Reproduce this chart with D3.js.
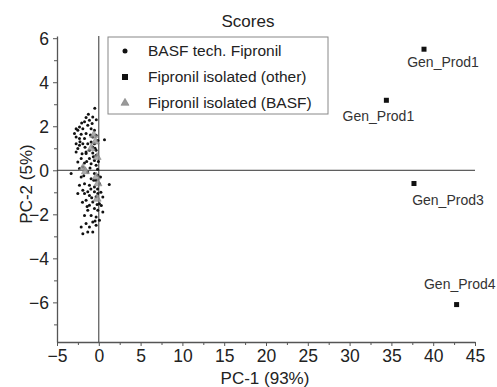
<!DOCTYPE html>
<html>
<head>
<meta charset="utf-8">
<script src="https://cdn.jsdelivr.net/npm/d3@7"></script>
<style>
  body { margin: 0; background: #fff; }
  svg { display: block; font-family: Arial, "Liberation Sans", sans-serif; }
</style>
</head>
<body>
<div id="chart"></div>
<script>
// BASF tech. Fipronil batches [PC-1, PC-2]
const basfTech = [
  [-1.52, 2.40], [-1.12, 2.27], [-1.71, 2.20], [-0.72, 2.42], [-0.80, 2.12], [-1.32, 2.05],
  [-2.31, 1.97], [-2.71, 1.89], [-2.51, 1.82], [-1.91, 1.89], [-0.92, 1.89], [-0.52, 1.82],
  [-2.91, 1.67], [-2.11, 1.64], [-1.52, 1.67], [-2.71, 1.51], [-2.31, 1.44], [-1.71, 1.44],
  [-0.72, 1.51], [-0.32, 1.59], [-0.92, 1.29], [-0.52, 1.21], [-1.32, 1.21], [-1.91, 1.21],
  [-2.31, 1.14], [-2.51, 0.99], [-0.72, 1.06], [-0.32, 0.91], [-1.12, 0.91], [-1.52, 0.83],
  [-2.71, 1.21], [0.68, 1.39], [-0.48, 2.82], [-1.25, 2.55], [-0.30, 2.30], [-2.05, 2.15],
  [-2.71, 0.83], [-1.52, 0.76], [-0.72, 0.79], [-0.32, 0.68], [-2.11, 0.53], [-1.12, 0.53],
  [-0.52, 0.45], [-2.51, 0.38], [-1.71, 0.33], [-0.92, 0.30], [-0.32, 0.23], [-1.91, 0.15],
  [-2.31, 0.08], [-3.31, -0.15], [-1.32, -0.08], [-0.52, -0.15], [-0.12, -0.23], [-2.11, -0.30],
  [-0.92, -0.38], [-0.32, -0.45], [-1.71, -0.61], [-2.31, -0.68], [-1.12, -0.68], [-0.52, -0.76],
  [0.08, -0.61], [-1.91, -0.91], [-1.32, -0.98], [-0.52, -0.98], [-2.51, -1.06], [-0.12, -1.06],
  [1.25, -0.64], [-0.15, 0.05], [-1.05, 0.10], [-0.65, 0.62], [-0.10, 1.35], [-0.15, -0.85],
  [-1.71, -1.06], [-1.12, -1.14], [-0.32, -1.20], [0.48, -1.21], [-1.52, -1.36], [-0.72, -1.44],
  [0.08, -1.52], [-1.12, -1.59], [-0.52, -1.74], [-1.32, -1.82], [-0.12, -1.82], [0.48, -1.89],
  [-0.92, -2.05], [-0.32, -2.12], [-1.71, -2.05], [0.08, -2.27], [-0.72, -2.35], [-1.52, -2.42],
  [-2.11, -2.58], [-1.12, -2.58], [-0.32, -2.50], [-1.32, -2.80], [-1.91, -2.88], [-0.72, -2.80],
  [-0.85, -1.25], [-0.20, -1.55], [-1.95, -1.45], [-0.60, -0.45], [-1.45, 0.40], [-0.45, 1.00],
  [-2.00, 0.75], [-0.05, 0.40], [-1.65, 1.05], [-1.00, 1.60], [-2.25, 1.30], [0.20, -0.30],
  [-0.95, -0.85], [0.25, -1.00], [-1.40, -1.65], [-0.45, -2.30], [0.30, -1.60], [-1.80, -0.25]
];

// Fipronil isolated (BASF)
const basfIsolated = [
  [-0.90, 1.00], [-0.40, 1.30], [-0.20, 0.60], [-1.90, 0.10], [-1.60, -0.05],
  [-0.30, -0.30], [-0.10, -0.60], [-0.60, 1.60], [-0.20, -1.30]
];

// Fipronil isolated (other)
const otherNames = ["Gen_Prod1", "Gen_Prod1", "Gen_Prod3", "Gen_Prod4"];
const otherPc1 = [38.9, 34.4, 37.7, 42.8];
const otherPc2 = [5.50, 3.18, -0.60, -6.10];

const legendLabels = ["BASF tech. Fipronil", "Fipronil isolated (other)", "Fipronil isolated (BASF)"];
const xTicks = [-5, 0, 5, 10, 15, 20, 25, 30, 35, 40, 45];
const yTicks = [-6, -4, -2, 0, 2, 4, 6];

const width = 497, height = 387;
const margin = { top: 36, right: 22, bottom: 45, left: 57 };

const svg = d3.select('#chart').append('svg')
  .attr('width', width)
  .attr('height', height);

const x = d3.scaleLinear().domain([-5, 45]).range([margin.left, width - margin.right]);
const y = d3.scaleLinear().domain([-7.8, 6.1]).range([height - margin.bottom, margin.top]);

// minor ticks
const xMinor = d3.range(-2.5, 45, 5);
const yMinor = d3.range(-7, 7, 2);

svg.append('g')
  .attr('transform', `translate(0,${y.range()[0]})`)
  .call(d3.axisBottom(x).tickValues(xMinor).tickSize(3).tickSizeOuter(0).tickFormat(''))
  .call(g => g.select('.domain').remove())
  .selectAll('line').attr('stroke', '#555');

svg.append('g')
  .attr('transform', `translate(${x.range()[0]},0)`)
  .call(d3.axisLeft(y).tickValues(yMinor).tickSize(3).tickSizeOuter(0).tickFormat(''))
  .call(g => g.select('.domain').remove())
  .selectAll('line').attr('stroke', '#555');

const xAxis = svg.append('g')
  .attr('transform', `translate(0,${y.range()[0]})`)
  .call(d3.axisBottom(x).tickValues(xTicks).tickSize(4).tickSizeOuter(0).tickPadding(4));
xAxis.select('.domain').attr('stroke', '#555').attr('stroke-width', 1.3);
xAxis.selectAll('line').attr('stroke', '#555');
xAxis.selectAll('text')
  .style('font-size', '17.5px')
  .attr('fill', '#222');

const yAxis = svg.append('g')
  .attr('transform', `translate(${x.range()[0]},0)`)
  .call(d3.axisLeft(y).tickValues(yTicks).tickSize(4).tickSizeOuter(0).tickPadding(4));
yAxis.select('.domain').attr('stroke', '#555').attr('stroke-width', 1.3);
yAxis.selectAll('line').attr('stroke', '#555');
yAxis.selectAll('text')
  .style('font-size', '17.5px')
  .attr('fill', '#222')
  .attr('dy', '0.36em');

// zero lines
svg.append('line')
  .attr('x1', x.range()[0]).attr('x2', x.range()[1])
  .attr('y1', y(0)).attr('y2', y(0))
  .attr('stroke', '#333').attr('stroke-width', 1);
svg.append('line')
  .attr('x1', x(0)).attr('x2', x(0))
  .attr('y1', y.range()[1]).attr('y2', y.range()[0])
  .attr('stroke', '#333').attr('stroke-width', 1);

// titles
svg.append('text')
  .attr('x', 248).attr('y', 27)
  .attr('text-anchor', 'middle')
  .style('font-size', '17px')
  .attr('fill', '#222')
  .text('Scores');

svg.append('text')
  .attr('x', 265).attr('y', 384)
  .attr('text-anchor', 'middle')
  .style('font-size', '17px')
  .attr('fill', '#222')
  .text('PC-1 (93%)');

svg.append('text')
  .attr('transform', 'translate(32,184) rotate(-90)')
  .attr('text-anchor', 'middle')
  .style('font-size', '17px')
  .attr('fill', '#222')
  .text('PC-2 (5%)');

const triangle = d3.symbol().type(d3.symbolTriangle).size(28);

// cluster points
svg.append('g').selectAll('circle')
  .data(basfTech)
  .enter()
  .append('circle')
  .attr('cx', d => x(d[0]))
  .attr('cy', d => y(d[1]))
  .attr('r', 1.5)
  .attr('fill', '#111');

svg.append('g').selectAll('path')
  .data(basfIsolated)
  .enter()
  .append('path')
  .attr('d', triangle)
  .attr('transform', d => `translate(${x(d[0])},${y(d[1])})`)
  .attr('fill', '#999')
  .attr('fill-opacity', 0.8)
  .attr('stroke', '#777')
  .attr('stroke-width', 0.5);

// other products
const others = otherNames.map((n, i) => ({ name: n, pc1: otherPc1[i], pc2: otherPc2[i] }));
svg.append('g').selectAll('rect')
  .data(others)
  .enter()
  .append('rect')
  .attr('x', d => x(d.pc1) - 2.5)
  .attr('y', d => y(d.pc2) - 2.5)
  .attr('width', 5)
  .attr('height', 5)
  .attr('fill', '#111');

// label offsets relative to each marker
const labelDx = [19, -8, 34, 39];
const labelDy = [18, 21, 22, -16];
const labelAnchor = ['middle', 'middle', 'middle', 'end'];
svg.append('g').selectAll('text')
  .data(others)
  .enter()
  .append('text')
  .attr('x', (d, i) => x(d.pc1) + labelDx[i])
  .attr('y', (d, i) => y(d.pc2) + labelDy[i])
  .attr('text-anchor', (d, i) => labelAnchor[i])
  .style('font-size', '14px')
  .attr('fill', '#333')
  .text(d => d.name);

// legend
const legend = svg.append('g').attr('transform', 'translate(108,37)');
legend.append('rect')
  .attr('width', 220).attr('height', 77)
  .attr('fill', '#fff')
  .attr('stroke', '#888')
  .attr('stroke-width', 1);

const rowY = [14, 40, 66];
legend.append('circle').attr('cx', 17).attr('cy', rowY[0]).attr('r', 2.5).attr('fill', '#111');
legend.append('rect').attr('x', 14).attr('y', rowY[1] - 3).attr('width', 6).attr('height', 6).attr('fill', '#111');
legend.append('path').attr('d', triangle)
  .attr('transform', `translate(17,${rowY[2]})`)
  .attr('fill', '#999').attr('stroke', '#777').attr('stroke-width', 0.5);

legend.selectAll('text.lbl')
  .data(legendLabels)
  .enter()
  .append('text')
  .attr('class', 'lbl')
  .attr('x', 40)
  .attr('y', (d, i) => rowY[i] + 5)
  .style('font-size', '15.5px')
  .attr('fill', '#222')
  .text(d => d);
</script>
</body>
</html>
